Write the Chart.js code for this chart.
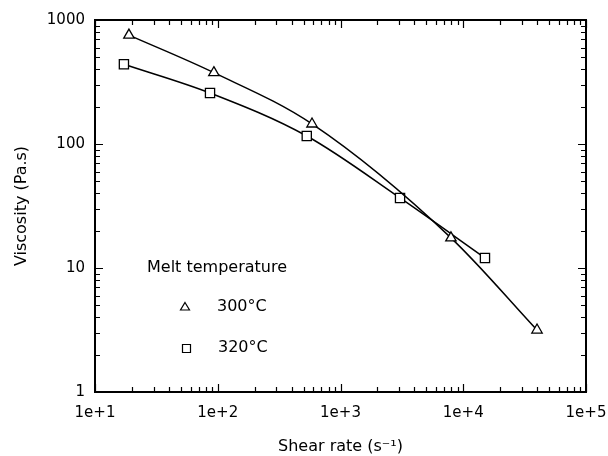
<!DOCTYPE html>
<html>
<head>
<meta charset="utf-8">
<script src="https://cdn.jsdelivr.net/npm/chart.js@4"></script>
<style>
  html, body { margin: 0; padding: 0; background: #fff; }
  canvas { display: block; }
</style>
</head>
<body>
<canvas id="c" width="608" height="456"></canvas>
<script>
// ---- Data ----
const seriesNames = ['300°C', '320°C'];
const shear300 = [18.9, 93, 586, 7940, 39900];
const visc300  = [755, 376, 145, 17.5, 3.16];
const shear320 = [17.2, 86.5, 531, 3055, 15030];
const visc320  = [440, 258, 116, 36.7, 12.05];

const xTickValues = [10, 100, 1000, 10000, 100000];
const xTickLabels = ['1e+1', '1e+2', '1e+3', '1e+4', '1e+5'];
const yTickValues = [1, 10, 100, 1000];
const yTickLabels = ['1', '10', '100', '1000'];
const minorMultipliers = [2, 3, 4, 5, 6, 7, 8, 9];

const legendTitle = 'Melt temperature';
const xTitle = 'Shear rate (s\u207B\u00B9)';
const yTitle = 'Viscosity (Pa.s)';

const TICK_FONT = { family: 'DejaVu Sans', size: 15 };
const TITLE_FONT = { family: 'DejaVu Sans', size: 16 };

function toPoints(xs, ys) { return xs.map((x, i) => ({ x: x, y: ys[i] })); }

// Box, inward major/minor ticks on all four sides, in-plot legend
const framePlugin = {
  id: 'frame',
  afterDraw(chart) {
    const ctx = chart.ctx;
    const a = chart.chartArea;
    const xs = chart.scales.x, ys = chart.scales.y;
    ctx.save();
    ctx.strokeStyle = '#000';
    ctx.lineWidth = 1.2;
    const majorLen = 8, minorLen = 5;
    for (let d = 0; d < xTickValues.length; d++) {
      const base = xTickValues[d];
      const list = [[base, majorLen]];
      if (d < xTickValues.length - 1) minorMultipliers.forEach(m => list.push([base * m, minorLen]));
      list.forEach(([v, len]) => {
        const px = Math.round(xs.getPixelForValue(v)) + 0.5;
        ctx.beginPath();
        ctx.moveTo(px, a.bottom); ctx.lineTo(px, a.bottom - len);
        ctx.moveTo(px, a.top); ctx.lineTo(px, a.top + len);
        ctx.stroke();
      });
    }
    for (let d = 0; d < yTickValues.length; d++) {
      const base = yTickValues[d];
      const list = [[base, majorLen]];
      if (d < yTickValues.length - 1) minorMultipliers.forEach(m => list.push([base * m, minorLen]));
      list.forEach(([v, len]) => {
        const py = Math.round(ys.getPixelForValue(v)) + 0.5;
        ctx.beginPath();
        ctx.moveTo(a.left, py); ctx.lineTo(a.left + len, py);
        ctx.moveTo(a.right, py); ctx.lineTo(a.right - len, py);
        ctx.stroke();
      });
    }
    ctx.lineWidth = 2;
    ctx.strokeRect(a.left, a.top, a.right - a.left, a.bottom - a.top);

    ctx.fillStyle = '#000';
    ctx.font = '16px "DejaVu Sans"';
    ctx.textBaseline = 'middle';
    ctx.textAlign = 'left';
    ctx.fillText(legendTitle, 147, 268);
    ctx.fillText(seriesNames[0], 217, 307);
    ctx.fillText(seriesNames[1], 218, 348);
    ctx.lineWidth = 1.2;
    ctx.fillStyle = '#fff';
    ctx.beginPath();
    ctx.moveTo(185, 302.5); ctx.lineTo(189.5, 310); ctx.lineTo(180.5, 310); ctx.closePath();
    ctx.fill(); ctx.stroke();
    ctx.beginPath();
    ctx.rect(182.5, 344.5, 8, 8);
    ctx.fill(); ctx.stroke();
    ctx.restore();
  }
};

new Chart(document.getElementById('c'), {
  type: 'line',
  data: {
    datasets: [
      {
        label: seriesNames[0],
        data: toPoints(shear300, visc300),
        borderColor: '#000',
        borderWidth: 1.5,
        cubicInterpolationMode: 'monotone',
        pointStyle: 'triangle',
        pointRadius: 6,
        pointBorderWidth: 1.3,
        pointBackgroundColor: '#fff',
        pointBorderColor: '#000',
        fill: false
      },
      {
        label: seriesNames[1],
        data: toPoints(shear320, visc320),
        borderColor: '#000',
        borderWidth: 1.5,
        cubicInterpolationMode: 'monotone',
        pointStyle: 'rect',
        pointRadius: 6.5,
        pointBorderWidth: 1.3,
        pointBackgroundColor: '#fff',
        pointBorderColor: '#000',
        fill: false
      }
    ]
  },
  options: {
    responsive: false,
    animation: false,
    devicePixelRatio: 1,
    layout: { padding: { left: 0, right: 22, top: 20, bottom: 0 } },
    plugins: { legend: { display: false }, tooltip: { enabled: false } },
    scales: {
      x: {
        type: 'logarithmic',
        min: 10, max: 100000,
        grid: { display: false, drawTicks: false },
        border: { display: false },
        afterBuildTicks: s => { s.ticks = xTickValues.map(v => ({ value: v })); },
        afterFit: s => { s.height = 64; s.paddingLeft = 0; s.paddingRight = 0; },
        ticks: {
          autoSkip: false, maxRotation: 0, color: '#000', font: TICK_FONT, padding: 12,
          callback: v => { const i = xTickValues.indexOf(v); return i >= 0 ? xTickLabels[i] : ''; }
        },
        title: { display: true, text: xTitle, color: '#000', font: TITLE_FONT, padding: { top: 4, bottom: 0 } }
      },
      y: {
        type: 'logarithmic',
        min: 1, max: 1000,
        grid: { display: false, drawTicks: false },
        border: { display: false },
        afterBuildTicks: s => { s.ticks = yTickValues.map(v => ({ value: v })); },
        afterFit: s => { s.width = 95; s.paddingTop = 0; s.paddingBottom = 0; },
        ticks: {
          autoSkip: false, color: '#000', font: TICK_FONT, padding: 10,
          callback: v => { const i = yTickValues.indexOf(v); return i >= 0 ? yTickLabels[i] : ''; }
        },
        title: { display: true, text: yTitle, color: '#000', font: TITLE_FONT, padding: { top: 12, bottom: 0 } }
      }
    }
  },
  plugins: [framePlugin]
});
</script>
</body>
</html>
